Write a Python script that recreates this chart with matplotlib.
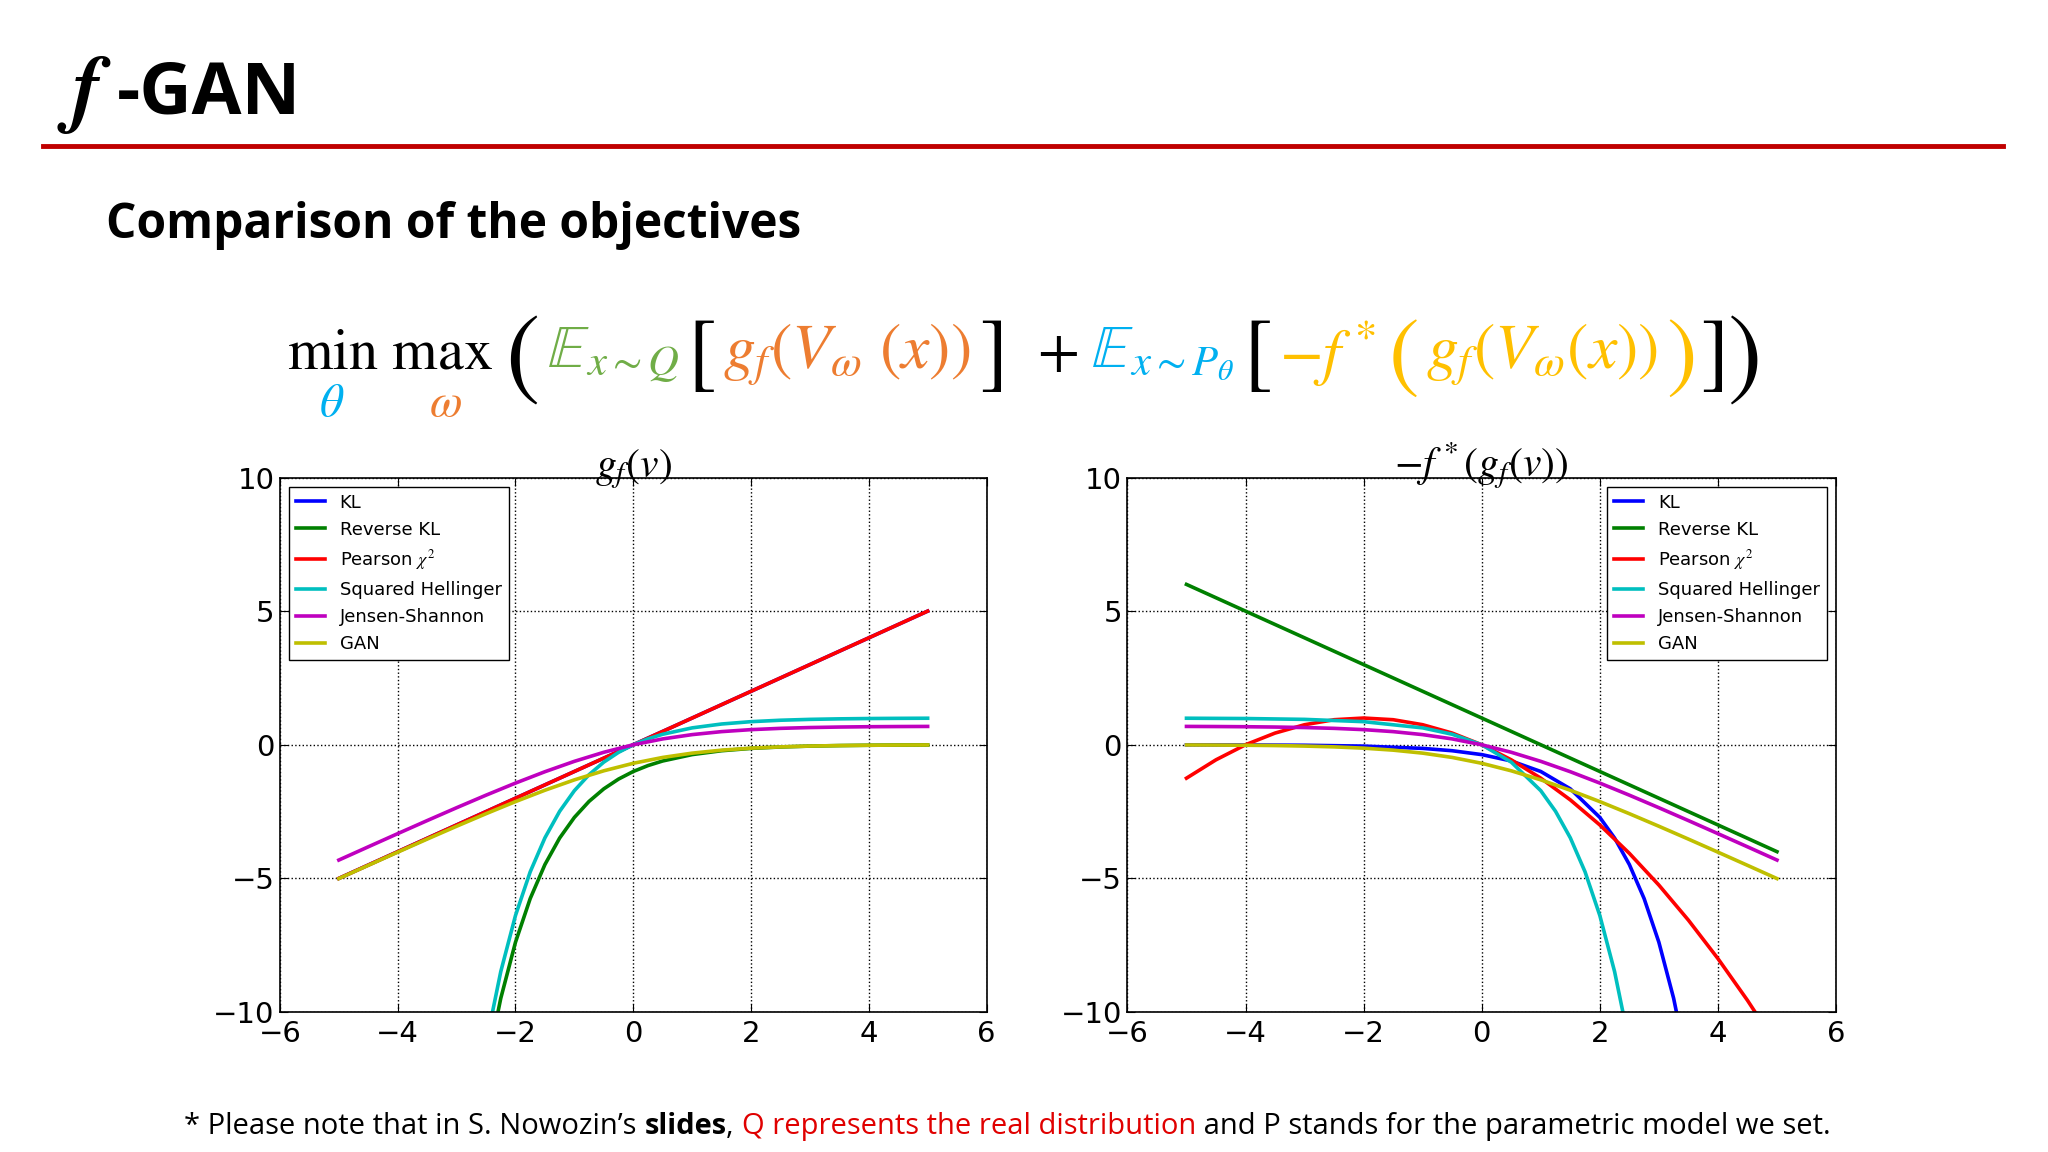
import numpy as np
import matplotlib
matplotlib.use("Agg")
import matplotlib.pyplot as plt

plt.rcParams['mathtext.fontset'] = 'stix'

# ---- data (sampled values) ----
x_full = [-5,-4.5,-4,-3.5,-3,-2.5,-2,-1.5,-1,-0.5,0,0.5,1,1.5,2,2.5,3,3.5,4,4.5,5]
labels = ["KL", "Reverse KL", r"Pearson $\chi^2$", "Squared Hellinger", "Jensen-Shannon", "GAN"]
colors = ["#0000ff", "#008000", "#ff0000", "#00bfbf", "#bf00bf", "#bfbf00"]

# left: g_f(v)
L_kl_x = x_full
L_kl_y = x_full
L_rkl_x = [-2.5,-2.25,-2,-1.75,-1.5,-1.25,-1,-0.75,-0.5,-0.25,0,0.25,0.5,1,1.5,2,2.5,3,3.5,4,4.5,5]
L_rkl_y = [-12.18,-9.488,-7.389,-5.755,-4.482,-3.490,-2.718,-2.117,-1.649,-1.284,-1,-0.7788,-0.6065,-0.3679,-0.2231,-0.1353,-0.0821,-0.0498,-0.0302,-0.0183,-0.0111,-0.0067]
L_pear_x = x_full
L_pear_y = x_full
L_hel_x = L_rkl_x
L_hel_y = [-11.18,-8.488,-6.389,-4.755,-3.482,-2.490,-1.718,-1.117,-0.649,-0.284,0,0.2212,0.3935,0.6321,0.7769,0.8647,0.9179,0.9502,0.9698,0.9817,0.9889,0.9933]
L_gan_y = [-5.0067,-4.5111,-4.0181,-3.5298,-3.0486,-2.5789,-2.1269,-1.7014,-1.3133,-0.9741,-0.6931,-0.4741,-0.3133,-0.2014,-0.1269,-0.0789,-0.0486,-0.0298,-0.0181,-0.0111,-0.0067]
L_js_y = [-4.3136,-3.8180,-3.3250,-2.8367,-2.3555,-1.8858,-1.4338,-1.0083,-0.6202,-0.2810,0.0,0.2190,0.3798,0.4917,0.5662,0.6142,0.6445,0.6633,0.6750,0.6820,0.6864]

# right: -f*(g_f(v))
R_kl_x = [-5,-4,-3,-2,-1,-0.5,0,0.5,1,1.5,2,2.25,2.5,2.75,3,3.25,3.5]
R_kl_y = [-0.0025,-0.0067,-0.0183,-0.0498,-0.1353,-0.2231,-0.3679,-0.6065,-1,-1.6487,-2.7183,-3.490,-4.4817,-5.755,-7.389,-9.488,-12.18]
R_rkl_x = [-5,5]
R_rkl_y = [6,-4]
R_pear_x = x_full
R_pear_y = [-1.25,-0.5625,0,0.4375,0.75,0.9375,1,0.9375,0.75,0.4375,0,-0.5625,-1.25,-2.0625,-3,-4.0625,-5.25,-6.5625,-8,-9.5625,-11.25]
R_hel_x = [-5,-4,-3,-2,-1,-0.5,0,0.5,1,1.25,1.5,1.75,2,2.25,2.5]
R_hel_y = [0.9933,0.9817,0.9502,0.8647,0.6321,0.3935,0,-0.6487,-1.7183,-2.490,-3.4817,-4.755,-6.389,-8.488,-11.18]
R_gan_y = [-0.0067,-0.0111,-0.0181,-0.0298,-0.0486,-0.0789,-0.1269,-0.2014,-0.3133,-0.4741,-0.6931,-0.9741,-1.3133,-1.7014,-2.1269,-2.5789,-3.0486,-3.5298,-4.0181,-4.5111,-5.0067]
R_js_y = [0.6864,0.6820,0.6750,0.6633,0.6445,0.6142,0.5662,0.4917,0.3798,0.2190,0.0,-0.2810,-0.6202,-1.0083,-1.4338,-1.8858,-2.3555,-2.8367,-3.3250,-3.8180,-4.3136]

ticks_x = [-6,-4,-2,0,2,4,6]
ticks_y = [-10,-5,0,5,10]

SANS = 'Open Sans'

fig = plt.figure(figsize=(20.48, 11.52), dpi=100)
fig.patch.set_facecolor('white')
renderer = fig.canvas.get_renderer()

# header
tf = fig.text(0.028, 0.918, r"$\boldsymbol{f}$", fontsize=62, va='center', ha='left')
bb = tf.get_window_extent(renderer=renderer)
fig.text(bb.x1 / fig.bbox.width + 0.002, 0.918, "-GAN", fontsize=52, fontweight='bold',
         va='center', ha='left', family=SANS)
fig.add_artist(plt.Line2D([0.021, 0.978], [0.873, 0.873], color='#c00000', lw=3.5, transform=fig.transFigure))
fig.text(0.052, 0.804, "Comparison of the objectives", fontsize=34.5, fontweight='bold', va='center', family=SANS)

# equation built sequentially
ey = 0.700
pieces = [
    (r"$\mathrm{min}\ \mathrm{max}$", 'black', 42),
    (r"$($", 'black', 74),
    (r"$\mathbb{E}_{x\sim Q}$", '#70ad47', 44),
    (r"$[$", 'black', 62),
    (r"$g_f(V_\omega\ (x))$", '#ed7d31', 46),
    (r"$]$", 'black', 62),
    (r"$\ +\ $", 'black', 44),
    (r"$\mathbb{E}_{x\sim P_\theta}$", '#00b0f0', 44),
    (r"$[$", 'black', 62),
    (r"$-f^*$", '#ffc000', 46),
    (r"$($", '#ffc000', 66),
    (r"$g_f(V_\omega(x))$", '#ffc000', 46),
    (r"$)$", '#ffc000', 66),
    (r"$]$", 'black', 62),
    (r"$)$", 'black', 74),
]
gaps = [0.006, 0.004, 0.004, 0.004, 0.004, 0.006, 0.006, 0.004, 0.004, 0.006, 0.004, 0.004, 0.003, 0.002, 0]
xcur = 0.140
for i, (s, c, fs) in enumerate(pieces):
    t = fig.text(xcur, ey, s, color=c, fontsize=fs, va='center_baseline', ha='left')
    bb = t.get_window_extent(renderer=renderer)
    if i == 0:
        x0 = bb.x0 / fig.bbox.width
        w = (bb.x1 - bb.x0) / fig.bbox.width
        fig.text(x0 + 0.22 * w, ey - 0.050, r"$\theta$", color='#00b0f0', fontsize=34, ha='center', va='center')
        fig.text(x0 + 0.77 * w, ey - 0.050, r"$\omega$", color='#ed7d31', fontsize=34, ha='center', va='center')
    xcur = bb.x1 / fig.bbox.width + gaps[i]

def fmt(v):
    return f"\u2212{abs(v)}" if v < 0 else f"{v}"

def setup(ax, title):
    ax.set_xlim(-6, 6)
    ax.set_ylim(-10, 10)
    ax.set_xticks(ticks_x)
    ax.set_yticks(ticks_y)
    ax.set_xticklabels([fmt(v) for v in ticks_x], family='DejaVu Sans')
    ax.set_yticklabels([fmt(v) for v in ticks_y], family='DejaVu Sans')
    ax.tick_params(direction='in', labelsize=21, length=6, top=True, right=True, pad=4)
    ax.tick_params(axis='x', pad=6)
    ax.grid(True, linestyle=':', color='black', lw=1)
    ax.set_title(title, fontsize=30, pad=0)
    for sp in ax.spines.values():
        sp.set_linewidth(1.2)

ax1 = fig.add_axes([0.1367, 0.1215, 0.345, 0.464])
ax2 = fig.add_axes([0.5505, 0.1215, 0.346, 0.464])
lw = 2.6
ax1.plot(L_kl_x, L_kl_y, color=colors[0], lw=lw, label=labels[0])
ax1.plot(L_rkl_x, L_rkl_y, color=colors[1], lw=lw, label=labels[1])
ax1.plot(L_pear_x, L_pear_y, color=colors[2], lw=lw, label=labels[2])
ax1.plot(L_hel_x, L_hel_y, color=colors[3], lw=lw, label=labels[3])
ax1.plot(x_full, L_js_y, color=colors[4], lw=lw, label=labels[4])
ax1.plot(x_full, L_gan_y, color=colors[5], lw=lw, label=labels[5])
setup(ax1, r"$g_f(v)$")
ax1.legend(loc='upper left', fancybox=False, edgecolor='black', framealpha=1,
           handlelength=1.6, prop={'family': 'DejaVu Sans', 'size': 13})

ax2.plot(R_kl_x, R_kl_y, color=colors[0], lw=lw, label=labels[0])
ax2.plot(R_rkl_x, R_rkl_y, color=colors[1], lw=lw, label=labels[1])
ax2.plot(R_pear_x, R_pear_y, color=colors[2], lw=lw, label=labels[2])
ax2.plot(R_hel_x, R_hel_y, color=colors[3], lw=lw, label=labels[3])
ax2.plot(x_full, R_js_y, color=colors[4], lw=lw, label=labels[4])
ax2.plot(x_full, R_gan_y, color=colors[5], lw=lw, label=labels[5])
setup(ax2, r"$-f^*(g_f(v))$")
ax2.legend(loc='upper right', fancybox=False, edgecolor='black', framealpha=1,
           handlelength=1.6, prop={'family': 'DejaVu Sans', 'size': 13})

# footer
foot = [
    ("* Please note that in S. Nowozin\u2019s ", 'black', 'normal'),
    ("slides", 'black', 'bold'),
    (", ", 'black', 'normal'),
    ("Q represents the real distribution", '#e00000', 'normal'),
    (" and P stands for the parametric model we set.", 'black', 'normal'),
]
xcur = 0.090
for s, c, w in foot:
    t = fig.text(xcur, 0.022, s, color=c, fontweight=w, fontsize=21, family=SANS, va='center', ha='left')
    bb = t.get_window_extent(renderer=renderer)
    xcur = bb.x1 / fig.bbox.width

fig.savefig("out.png", dpi=100, facecolor='white')
